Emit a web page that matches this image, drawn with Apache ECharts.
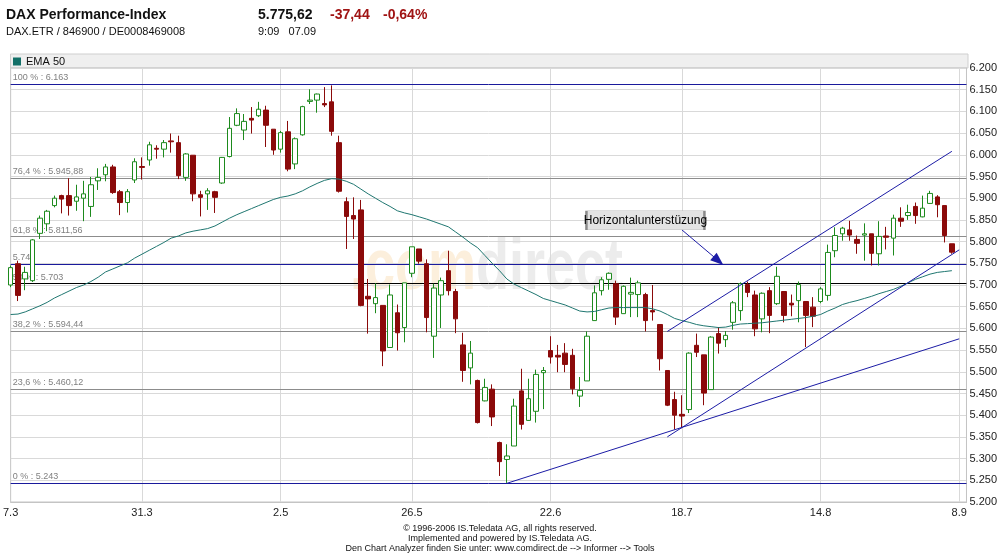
<!DOCTYPE html>
<html><head><meta charset="utf-8">
<script src="https://cdn.jsdelivr.net/npm/echarts@6/dist/echarts.min.js"></script>
<style>html,body{margin:0;padding:0;background:#fff}#c{width:1000px;height:554px}</style>
</head><body><div id="c"></div>
<script>
// ---- data ----
const dates = ['7.3','8.3','9.3','10.3','13.3','14.3','15.3','16.3','17.3','20.3','21.3','22.3','23.3','24.3','27.3','28.3','29.3','30.3','31.3',
'3.4','4.4','5.4','6.4','7.4','10.4','11.4','12.4','13.4','18.4','19.4','20.4','21.4','24.4','25.4','26.4','27.4','28.4',
'2.5','3.5','4.5','5.5','8.5','9.5','10.5','11.5','12.5','15.5','16.5','17.5','18.5','19.5','22.5','23.5','24.5','25.5','26.5','29.5','30.5','31.5',
'1.6','2.6','5.6','6.6','7.6','8.6','9.6','12.6','13.6','14.6','15.6','16.6','19.6','20.6','21.6','22.6','23.6','26.6','27.6','28.6','29.6','30.6',
'3.7','4.7','5.7','6.7','7.7','10.7','11.7','12.7','13.7','14.7','17.7','18.7','19.7','20.7','21.7','24.7','25.7','26.7','27.7','28.7','31.7',
'1.8','2.8','3.8','4.8','7.8','8.8','9.8','10.8','11.8','14.8','15.8','16.8','17.8','18.8','21.8','22.8','23.8','24.8','25.8','28.8','29.8','30.8','31.8',
'1.9','4.9','5.9','6.9','7.9','8.9','11.9'];

const opens = [5700,5749,5714,5710,5819,5841,5883,5906,5906,5893,5900,5881,5940,5954,5972,5915,5890,5942,5973,5988,
6015,6013,6032,6028,5948,5999,5908,5910,5915,5935,5996,6068,6057,6084,6090,6103,6059,6013,6053,5979,
6046,6123,6126,6118,6122,6028,5892,5860,5873,5674,5657,5653,5556,5636,5602,5727,5783,5749,5582,5677,
5733,5685,5562,5509,5480,5433,5460,5337,5298,5329,5456,5388,5409,5498,5549,5538,5543,5538,5444,5479,
5618,5687,5713,5703,5634,5679,5678,5678,5641,5609,5503,5436,5402,5413,5561,5539,5459,5588,5574,5614,
5641,5701,5677,5622,5687,5657,5685,5658,5664,5662,5649,5662,5676,5779,5818,5827,5805,5815,5818,5772,
5813,5808,5854,5860,5881,5857,5888,5903,5883,5795];
const closes = [5740,5676,5729,5804,5854,5870,5900,5898,5883,5903,5910,5931,5948,5972,5913,5890,5915,5984,5971,6023,
6013,6028,6030,5952,6002,5910,5902,5917,5902,5994,6061,6095,6077,6080,6105,6068,6011,6051,5967,6037,
6111,6126,6140,6115,6054,5916,5858,5852,5653,5668,5671,5548,5677,5590,5705,5788,5755,5625,5693,5710,
5687,5622,5503,5543,5383,5464,5396,5293,5306,5421,5379,5438,5494,5503,5534,5534,5517,5461,5457,5582,
5682,5712,5727,5626,5697,5683,5705,5618,5638,5530,5423,5400,5398,5543,5545,5451,5580,5566,5584,5659,
5703,5683,5599,5681,5630,5720,5630,5654,5701,5630,5628,5691,5775,5814,5831,5815,5796,5818,5773,5812,
5810,5854,5847,5867,5860,5877,5911,5885,5814,5775.62];
const lows = [5695,5663,5688,5707,5806,5824,5879,5865,5860,5871,5847,5857,5919,5939,5910,5861,5867,5935,5943,5975,
5991,5994,6005,5944,5940,5893,5858,5873,5866,5933,5994,6066,6034,6049,6087,6018,6000,6005,5962,5967,
6044,6117,6097,6110,6044,5913,5783,5806,5651,5588,5635,5513,5556,5549,5568,5718,5749,5591,5532,5601,
5676,5589,5477,5471,5381,5432,5375,5260,5244,5329,5367,5387,5383,5414,5519,5499,5499,5448,5419,5479,
5618,5676,5689,5608,5634,5626,5626,5593,5618,5503,5421,5367,5370,5405,5534,5423,5459,5542,5557,5597,
5618,5672,5582,5591,5589,5654,5614,5628,5614,5557,5603,5658,5664,5764,5802,5802,5772,5756,5745,5745,
5782,5768,5834,5850,5841,5856,5887,5856,5798,5772];
const highs = [5745,5756,5742,5806,5860,5873,5906,5908,5946,5931,5940,5949,5969,5979,5977,5919,5921,5992,5994,6030,
6022,6034,6049,6044,6004,5999,5917,5923,5917,5995,6087,6107,6094,6110,6122,6113,6059,6055,6078,6040,
6113,6151,6141,6156,6160,6044,5902,5902,5896,5714,5704,5653,5701,5655,5705,5788,5783,5759,5703,5717,
5779,5691,5590,5571,5482,5484,5471,5339,5333,5438,5507,5484,5505,5511,5582,5562,5566,5553,5488,5593,
5699,5718,5729,5710,5699,5717,5710,5682,5700,5609,5503,5454,5446,5545,5588,5539,5582,5603,5594,5663,
5706,5708,5687,5683,5695,5742,5685,5678,5708,5662,5672,5695,5793,5833,5834,5848,5814,5842,5818,5847,
5834,5862,5879,5885,5890,5906,5917,5907,5883,5795];
const ema50 = [5632,5633,5638,5645,5652,5660,5670,5678,5686,5694,5700,5708,5718,5730,5737,5744,5751,5762,5771,5780,
5789,5798,5808,5813,5820,5824,5827,5830,5836,5845,5854,5862,5869,5876,5883,5890,5897,5902,5905,5910,
5917,5926,5934,5941,5945,5944,5939,5932,5921,5910,5900,5890,5881,5871,5866,5862,5857,5852,5846,5840,
5834,5822,5810,5797,5786,5768,5750,5733,5714,5702,5694,5686,5678,5669,5664,5659,5654,5647,5640,5638,
5639,5643,5647,5648,5648,5648,5648,5648,5645,5640,5632,5623,5618,5614,5609,5606,5604,5602,5603,5607,
5610,5611,5612,5613,5615,5617,5619,5621,5623,5625,5628,5632,5640,5647,5655,5660,5664,5669,5674,5680,
5685,5690,5697,5705,5713,5719,5725,5729,5731,5733];

const xLabels = ['7.3','31.3','2.5','26.5','22.6','18.7','14.8','8.9'];
const yMin = 5200, yMax = 6200, yStep = 50;

const fibLevels = [6163, 5945.88, 5811.56, 5748, 5703, 5594.44, 5460.12, 5243];
const fibTexts  = ['100 % : 6.163','76,4 % : 5.945,88','61,8 % : 5.811,56','5.748','50 % : 5.703','38,2 % : 5.594,44','23,6 % : 5.460,12','0 % : 5.243'];
const fibKinds  = ['blue','gray','gray','blue','black','gray','gray','blue'];

const trendLines = [
  [[68, 5243], [130, 5576]],
  [[90, 5350], [130, 5781]],
  [[90, 5593], [129, 6008]]
];
const noteText = 'Horizontalunterstüzung';
const noteBox = [87, 5849];
const arrowFrom = [92, 5827];
const arrowTo = [97, 5756];

const header = {
  title: 'DAX Performance-Index', sub: 'DAX.ETR / 846900 / DE0008469008',
  last: '5.775,62', chg: '-37,44', pct: '-0,64%', time: '9:09   07.09'
};
const footer = ['© 1996-2006 IS.Teledata AG, all rights reserved.',
  'Implemented and powered by IS.Teledata AG.',
  'Den Chart Analyzer finden Sie unter: www.comdirect.de --> Informer --> Tools'];

// ---- chart ----
const FONT = "'Liberation Sans', Arial, sans-serif";
const lineColors = {blue:'#1a1a9c', gray:'#8c8c8c', black:'#000000'};
const ohlc = dates.map((d, i) => i < opens.length ? [opens[i], closes[i], lows[i], highs[i]] : '-');
const emaData = dates.map((d, i) => i < ema50.length ? ema50[i] : '-');
const showLabel = (idx, val) => xLabels.indexOf(val) >= 0;
const showSplit = (idx, val) => idx > 0 && xLabels.indexOf(val) >= 0;

const chart = echarts.init(document.getElementById('c'), null, {renderer: 'canvas'});
const series = [
  {
    name: 'DAX', type: 'candlestick', data: ohlc, barWidth: 5, z: 3,
    itemStyle: {color: '#ffffff', color0: '#8b0a0a', borderColor: '#1d8a1d', borderColor0: '#8b0a0a', borderWidth: 1},
    emphasis: {disabled: true},
    markLine: {
      silent: true, symbol: ['none', 'none'], animation: false, z: 2,
      data: fibLevels.map((v, k) => ({
        yAxis: v,
        lineStyle: {color: lineColors[fibKinds[k]], width: 1, type: 'solid'},
        label: {show: true, formatter: fibTexts[k], position: 'insideStartTop', color: '#808080',
                fontSize: 9, fontFamily: FONT, distance: [2, 2]}
      }))
    }
  },
  {
    name: 'EMA 50', type: 'line', data: emaData, symbol: 'none', z: 4,
    lineStyle: {color: '#1f7670', width: 1}, itemStyle: {color: '#137068'}, emphasis: {disabled: true}
  }
];
trendLines.forEach((t, k) => {
  series.push({
    name: 'trend' + k, type: 'line', data: t, symbol: 'none', z: 5,
    lineStyle: {color: '#1c1ca6', width: 1}, emphasis: {disabled: true},
    markLine: k === 0 ? {
      silent: true, animation: false, symbol: ['none', 'triangle'], symbolSize: [10, 13],
      lineStyle: {color: '#1c1ca6', width: 1, type: 'solid'}, label: {show: false},
      data: [[{coord: arrowFrom}, {coord: arrowTo}]]
    } : undefined,
    markPoint: k === 0 ? {
      silent: true, animation: false,
      data: [{coord: noteBox, symbol: 'rect', symbolSize: [118, 19],
        itemStyle: {color: '#e3e3e3', borderColor: '#8a8a8a', borderWidth: 1},
        label: {show: true, position: 'inside', formatter: noteText, color: '#000', fontSize: 12, fontFamily: FONT}}]
    } : undefined
  });
});

chart.setOption({
  animation: false,
  backgroundColor: '#ffffff',
  grid: {left: 10.5, right: 32, top: 68, bottom: 52, show: true, borderColor: '#c4c4c4', borderWidth: 1},
  legend: {data: [{name: 'EMA 50', icon: 'rect'}], left: 13, top: 56, itemWidth: 8, itemHeight: 8, itemGap: 5,
    selectedMode: false, textStyle: {fontSize: 11, color: '#111', fontFamily: FONT}, padding: 0},
  xAxis: {
    type: 'category', data: dates, boundaryGap: false,
    axisLine: {lineStyle: {color: '#c4c4c4'}}, axisTick: {show: false},
    axisLabel: {interval: showLabel, color: '#222', fontSize: 11, fontFamily: FONT, margin: 5},
    splitLine: {show: true, interval: showSplit, lineStyle: {color: '#d9d9d9', width: 1}}
  },
  yAxis: {
    type: 'value', position: 'right', min: yMin, max: yMax, interval: yStep, scale: true,
    axisLine: {show: true, lineStyle: {color: '#c4c4c4'}}, axisTick: {show: false},
    axisLabel: {color: '#222', fontSize: 11, fontFamily: FONT, margin: 3,
      formatter: v => (v / 1000).toFixed(3)},
    splitLine: {show: true, lineStyle: {color: '#d9d9d9', width: 1}}
  },
  graphic: [
    {type: 'rect', shape: {x: 10.5, y: 54, width: 957.5, height: 14}, style: {fill: '#efefef', stroke: '#cfcfcf', lineWidth: 1}, z: -1, silent: true},
    {type: 'text', x: 350, y: 305, scaleX: 0.75, silent: true, z: -2,
      style: {text: '{o|.com}{g|direct}', textVerticalAlign: 'bottom',
        rich: {o: {fill: '#fcefdc', font: "bold 72px 'Liberation Sans', Arial"}, g: {fill: '#ececec', font: "bold 72px 'Liberation Sans', Arial"}}}},
    {type: 'text', left: 6, top: 8, style: {text: header.title, font: "bold 14px 'Liberation Sans', Arial", fill: '#111'}},
    {type: 'text', left: 258, top: 8, style: {text: header.last, font: "bold 14px 'Liberation Sans', Arial", fill: '#111'}},
    {type: 'text', left: 330, top: 8, style: {text: header.chg, font: "bold 14px 'Liberation Sans', Arial", fill: '#a01414'}},
    {type: 'text', left: 383, top: 8, style: {text: header.pct, font: "bold 14px 'Liberation Sans', Arial", fill: '#a01414'}},
    {type: 'text', left: 6, top: 26, style: {text: header.sub, font: "11px 'Liberation Sans', Arial", fill: '#111'}},
    {type: 'text', left: 258, top: 26, style: {text: header.time, font: "11px 'Liberation Sans', Arial", fill: '#111'}},
    {type: 'text', x: 500, y: 529, style: {text: footer[0], font: "9px 'Liberation Sans', Arial", fill: '#111', textAlign: 'center', textVerticalAlign: 'middle'}},
    {type: 'text', x: 500, y: 539, style: {text: footer[1], font: "9px 'Liberation Sans', Arial", fill: '#111', textAlign: 'center', textVerticalAlign: 'middle'}},
    {type: 'text', x: 500, y: 548.5, style: {text: footer[2], font: "9px 'Liberation Sans', Arial", fill: '#111', textAlign: 'center', textVerticalAlign: 'middle'}}
  ],
  series: series
});
</script></body></html>
